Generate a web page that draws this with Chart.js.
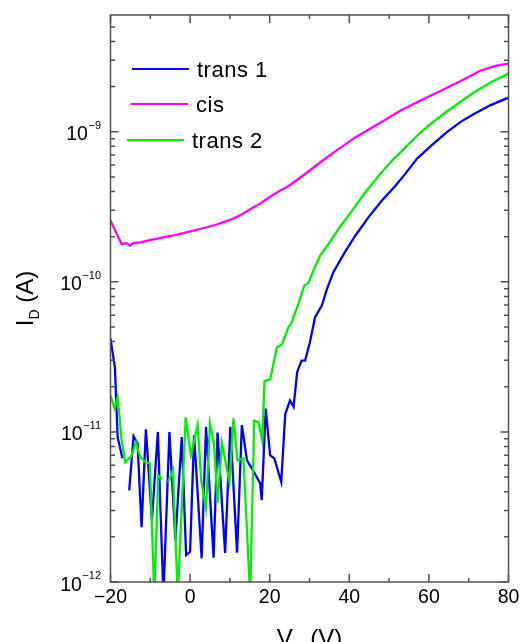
<!DOCTYPE html>
<html>
<head>
<meta charset="utf-8">
<script src="https://cdn.jsdelivr.net/npm/chart.js@4.4.1/dist/chart.umd.min.js"></script>
<style>
  html, body { margin: 0; padding: 0; background: #fff; }
  #wrap { width: 520px; height: 642px; }
</style>
</head>
<body>
<div id="wrap"><canvas id="chart"></canvas></div>
<script>
// ─── Data ────────────────────────────────────────────────────────────────────
// gate voltage V_G in volts, drain current I_D in amps; null = gap in the trace

const trans1V = [-20, -18.9, -18.2, -17.0, -16.2, -15.3, -14.2, -13.2, -12.2, -11.1,
  -9.6, -8.1, -6.7, -5.2, -3.7, -2.1, -1.0, 0.0, 1.0, 2.9,
  4.0, 5.9, 6.9, 8.8, 10.1, 11.8, 13.0, 14.3, 15.8, 17.6,
  18.0, 19.0, 20.1, 21.2, 22.9, 23.9, 25.1, 26.0, 26.9, 28.0,
  28.9, 30.1, 31.4, 33.1, 34.4, 36.0, 38.6, 41.5, 44.8, 48.2,
  51.6, 54.1, 57.0, 60.8, 64.6, 67.9, 71.2, 75.4, 80];
const trans1I = [4.2e-11, 2.69e-11, 9.2e-12, 6.67e-12, null, 4.08e-12, 9.35e-12, 8.4e-12, 2.32e-12, 1.04e-11,
  2.58e-12, 1.0e-11, 8e-13, 1.0e-11, 1.9e-12, 9.25e-12, 1.51e-12, 1.59e-12, 9.5e-12, 1.44e-12,
  1.08e-11, 1.45e-12, 9.9e-12, 1.56e-12, 1.08e-11, 1.57e-12, 1.11e-11, 6.47e-12, 5.55e-12, 4.55e-12,
  3.51e-12, 1.43e-11, 6.99e-12, 6.64e-12, 4.64e-12, 1.31e-11, 1.62e-11, 1.47e-11, 2.5e-11, 2.99e-11,
  2.99e-11, 3.96e-11, 5.81e-11, 6.95e-11, 8.98e-11, 1.16e-10, 1.53e-10, 2.03e-10, 2.69e-10, 3.48e-10,
  4.37e-10, 5.26e-10, 6.61e-10, 8.19e-10, 1.0e-9, 1.16e-9, 1.31e-9, 1.50e-9, 1.69e-9];

const cisV = [-20, -18.4, -17.2, -15.9, -15.1, -14.3, -12.6, -10.1, -8.1, -5.9,
  -3.8, -1.7, 0.4, 2.5, 4.5, 6.7, 8.8, 10.9, 13.0, 15.1,
  17.6, 20.5, 22.6, 24.9, 28.9, 33.1, 37.3, 41.5, 47.4, 52.8,
  57.8, 62.9, 67.9, 72.9, 76.7, 80];
const cisI = [2.56e-10, 2.08e-10, 1.79e-10, 1.81e-10, 1.74e-10, 1.81e-10, 1.83e-10, 1.90e-10, 1.94e-10, 2.0e-10,
  2.05e-10, 2.11e-10, 2.18e-10, 2.25e-10, 2.32e-10, 2.41e-10, 2.52e-10, 2.64e-10, 2.81e-10, 3.05e-10,
  3.32e-10, 3.75e-10, 4.05e-10, 4.37e-10, 5.23e-10, 6.36e-10, 7.67e-10, 9.17e-10, 1.13e-9, 1.38e-9,
  1.61e-9, 1.87e-9, 2.17e-9, 2.55e-9, 2.75e-9, 2.85e-9];

const trans2V = [-20, -19.0, -18.2, -17.2, -16.3, -14.8, -13.6, -12.6, -11.2, -10.1,
  -9.0, -8.0, -7.0, -6.2, -5.5, -4.3, -3.1, -1.1, 0.2, 1.9,
  2.8, 4.0, 5.0, 6.0, 6.9, 8.0, 9.9, 10.9, 11.9, 13.4,
  15.1, 16.1, 17.2, 18.1, 18.7, 20.1, 20.5, 21.8, 23.1, 24.7,
  25.4, 27.2, 28.7, 29.7, 31.0, 32.7, 34.8, 37.3, 40.7, 44.0,
  47.4, 50.7, 54.1, 57.8, 61.2, 64.6, 67.9, 71.2, 75.4, 80];
const trans2I = [1.75e-11, 1.44e-11, 1.70e-11, 8.8e-12, 6.28e-12, 6.88e-12, 8.53e-12, 6.88e-12, 6.28e-12, 6.18e-12,
  8e-13, 5.14e-12, 4.84e-12, null, 4.62e-12, 5.55e-12, 8e-13, 1.25e-11, 6.98e-12, 1.11e-11,
  4.76e-12, 3.1e-12, 1.14e-11, 8.4e-12, 3.35e-12, 8.4e-12, 4.62e-12, 1.23e-11, 6.47e-12, 6.67e-12,
  8e-13, 1.19e-11, 1.16e-11, 8.8e-12, 2.17e-11, 2.24e-11, 2.49e-11, 3.67e-11, 3.83e-11, 4.97e-11,
  5.26e-11, 7.14e-11, 9.45e-11, 9.8e-11, 1.19e-10, 1.50e-10, 1.79e-10, 2.25e-10, 2.98e-10, 3.94e-10,
  5.1e-10, 6.41e-10, 7.87e-10, 9.85e-10, 1.17e-9, 1.37e-9, 1.58e-9, 1.82e-9, 2.12e-9, 2.44e-9];

const seriesLabels = ['trans 1', 'cis', 'trans 2'];
const seriesColors = ['#0000ff', '#ff00ff', '#00f000'];

const xMajorTicks = [-20, 0, 20, 40, 60, 80];
const xMinorTicks = [-10, 10, 30, 50, 70];
const yMajorTicks = [1e-12, 1e-11, 1e-10, 1e-9];
const yTickExps   = ['\u221212', '\u221211', '\u221210', '\u22129'];

const X_MIN = -20, X_MAX = 80;
const Y_MIN = 1e-12, Y_MAX = 6e-9;

// ─── Helpers ─────────────────────────────────────────────────────────────────

const pairs = (xs, ys) => xs.map((v, i) => ({ x: v, y: ys[i] }));
const fmtX = v => (v < 0 ? '\u2212' + Math.abs(v) : String(v));

const FONT = '"Liberation Sans", Arial, sans-serif';
const AXIS = '#505050';

// ─── Frame, ticks, labels, legend ────────────────────────────────────────────

const frame = {
  id: 'frame',
  afterDatasetsDraw(chart) {
    const { ctx, chartArea: a, scales: { x, y } } = chart;
    ctx.save();
    ctx.strokeStyle = AXIS;
    ctx.lineWidth = 1.5;
    ctx.strokeRect(a.left, a.top, a.right - a.left, a.bottom - a.top);

    // inward ticks, bottom/top
    const xTick = (v, len) => {
      const px = x.getPixelForValue(v);
      ctx.beginPath();
      ctx.moveTo(px, a.bottom); ctx.lineTo(px, a.bottom - len);
      ctx.moveTo(px, a.top);    ctx.lineTo(px, a.top + len);
      ctx.stroke();
    };
    xMajorTicks.forEach(v => xTick(v, 8));
    xMinorTicks.forEach(v => xTick(v, 4));

    // inward ticks, left/right
    const yTick = (v, len) => {
      const py = y.getPixelForValue(v);
      ctx.beginPath();
      ctx.moveTo(a.left, py);  ctx.lineTo(a.left + len, py);
      ctx.moveTo(a.right, py); ctx.lineTo(a.right - len, py);
      ctx.stroke();
    };
    yMajorTicks.forEach(v => {
      yTick(v, 8);
      for (let m = 2; m <= 9; m++) if (v * m <= Y_MAX) yTick(v * m, 4.5);
    });

    ctx.fillStyle = '#000';

    // x tick labels
    ctx.font = '19.5px ' + FONT;
    ctx.textAlign = 'center';
    ctx.textBaseline = 'alphabetic';
    xMajorTicks.forEach(v => ctx.fillText(fmtX(v), x.getPixelForValue(v), a.bottom + 21));

    // y tick labels: 10 with superscript exponent
    const right = a.left - 9.5;
    yMajorTicks.forEach((v, i) => {
      const py = y.getPixelForValue(v);
      ctx.font = '11px ' + FONT;
      ctx.textAlign = 'left';
      const ew = ctx.measureText(yTickExps[i]).width;
      ctx.fillText(yTickExps[i], right - ew, py - 3);
      ctx.font = '19.5px ' + FONT;
      ctx.textAlign = 'right';
      ctx.fillText('10', right - ew - 0.5, py + 8.5);
    });

    // axis titles
    const run = (parts, x0, y0) => {
      let cx = x0;
      ctx.textAlign = 'left';
      parts.forEach(([t, size, dy]) => {
        ctx.font = size + 'px ' + FONT;
        ctx.fillText(t, cx, y0 + dy);
        cx += ctx.measureText(t).width;
      });
      return cx - x0;
    };
    const measure = parts => parts.reduce((w, [t, size]) => {
      ctx.font = size + 'px ' + FONT;
      return w + ctx.measureText(t).width;
    }, 0);

    const xTitle = [['V', 24, 0], ['G', 14, 6], [' (V)', 24, 0]];
    const xc = (a.left + a.right) / 2;
    run(xTitle, xc - measure(xTitle) / 2, a.bottom + 63.5);

    const yTitle = [['I', 24, 0], ['D', 14, 6], [' (A)', 24, 0]];
    const yc = (a.top + a.bottom) / 2;
    ctx.save();
    ctx.translate(33, yc);
    ctx.rotate(-Math.PI / 2);
    run(yTitle, -measure(yTitle) / 2, 0);
    ctx.restore();

    // legend
    const rowX = [132, 131, 127];
    const rowY = [69, 104, 140];
    ctx.lineWidth = 2.2;
    ctx.font = '22px ' + FONT;
    ctx.letterSpacing = '0.5px';
    ctx.textAlign = 'left';
    ctx.textBaseline = 'middle';
    seriesLabels.forEach((lab, i) => {
      ctx.strokeStyle = seriesColors[i];
      ctx.beginPath();
      ctx.moveTo(rowX[i], rowY[i]);
      ctx.lineTo(rowX[i] + 57, rowY[i]);
      ctx.stroke();
      ctx.fillStyle = '#000';
      ctx.fillText(lab, rowX[i] + 65, rowY[i] + 2);
    });
    ctx.restore();
  }
};

// ─── Chart ───────────────────────────────────────────────────────────────────

const series = [pairs(trans1V, trans1I), pairs(cisV, cisI), pairs(trans2V, trans2I)];
const drawOrder = [2, 1, 0]; // trans 2 on top

new Chart(document.getElementById('chart'), {
  type: 'line',
  data: {
    datasets: series.map((d, i) => ({
      label: seriesLabels[i],
      data: d,
      borderColor: seriesColors[i],
      backgroundColor: seriesColors[i],
      borderWidth: 2.3,
      pointRadius: 0,
      tension: 0,
      spanGaps: false,
      order: drawOrder[i],
    })),
  },
  options: {
    responsive: true,
    maintainAspectRatio: false,
    devicePixelRatio: 1,
    animation: false,
    layout: { padding: { left: 110.5, top: 15, right: 11.5, bottom: 60 } },
    plugins: { legend: { display: false }, tooltip: { enabled: false } },
    scales: {
      x: { type: 'linear', min: X_MIN, max: X_MAX, display: false },
      y: { type: 'logarithmic', min: Y_MIN, max: Y_MAX, display: false },
    },
  },
  plugins: [frame],
});
</script>
</body>
</html>
